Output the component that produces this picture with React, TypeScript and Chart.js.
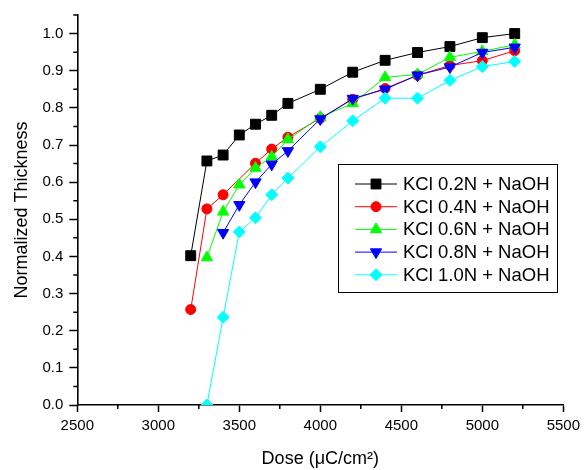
import React, { useEffect, useRef } from "react";
import { Chart, registerables } from "chart.js";
import { drawPoint } from "chart.js/helpers";

Chart.register(...registerables);

const seriesLabels = [
  "KCl 0.2N + NaOH",
  "KCl 0.4N + NaOH",
  "KCl 0.6N + NaOH",
  "KCl 0.8N + NaOH",
  "KCl 1.0N + NaOH",
];

const dose02 = [3200, 3300, 3400, 3500, 3600, 3700, 3800, 4000, 4200, 4400, 4600, 4800, 5000, 5200];
const thick02 = [0.402, 0.657, 0.673, 0.727, 0.756, 0.780, 0.812, 0.850, 0.896, 0.928, 0.949, 0.965, 0.989, 1.0];

const dose04 = [3200, 3300, 3400, 3600, 3700, 3800, 4000, 4200, 4400, 4600, 4800, 5000, 5200];
const thick04 = [0.257, 0.528, 0.566, 0.651, 0.689, 0.721, 0.772, 0.823, 0.852, 0.888, 0.914, 0.927, 0.954];

const dose06 = [3300, 3400, 3500, 3600, 3700, 3800, 4000, 4200, 4400, 4600, 4800, 5000, 5200];
const thick06 = [0.397, 0.52, 0.593, 0.638, 0.668, 0.715, 0.775, 0.812, 0.882, 0.89, 0.936, 0.952, 0.97];

const dose08 = [3400, 3500, 3600, 3700, 3800, 4000, 4200, 4400, 4600, 4800, 5000, 5200];
const thick08 = [0.464, 0.539, 0.6, 0.648, 0.684, 0.77, 0.825, 0.85, 0.888, 0.91, 0.949, 0.963];

const dose10 = [3300, 3400, 3500, 3600, 3700, 3800, 4000, 4200, 4400, 4600, 4800, 5000, 5200];
const thick10 = [0.0, 0.236, 0.466, 0.504, 0.566, 0.611, 0.695, 0.765, 0.826, 0.826, 0.874, 0.911, 0.925];

const xTickValues = [2500, 3000, 3500, 4000, 4500, 5000, 5500];
const xMinorTickValues = [2750, 3250, 3750, 4250, 4750, 5250];
const yTickValues = [0, 0.1, 0.2, 0.3, 0.4, 0.5, 0.6, 0.7, 0.8, 0.9, 1.0];
const yMinorTickValues = [0.05, 0.15, 0.25, 0.35, 0.45, 0.55, 0.65, 0.75, 0.85, 0.95, 1.05];

const FONT = '"Liberation Sans", Arial, sans-serif';

const seriesStyles = [
  { color: "#000000", pointStyle: "rect", rotation: 0, radius: 7 },
  { color: "#ff0000", pointStyle: "circle", rotation: 0, radius: 5 },
  { color: "#00ff00", pointStyle: "triangle", rotation: 0, radius: 6.5 },
  { color: "#0000ff", pointStyle: "triangle", rotation: 180, radius: 6.5 },
  { color: "#00ffff", pointStyle: "rectRot", rotation: 0, radius: 6 },
];

const minorTicksPlugin = {
  id: "minorTicks",
  afterDraw(chart: any) {
    const ctx = chart.ctx;
    const xs = chart.scales.x;
    const ys = chart.scales.y;
    ctx.save();
    ctx.strokeStyle = "#000";
    ctx.lineWidth = 1.5;
    ctx.beginPath();
    xMinorTickValues.forEach((v) => {
      const px = xs.getPixelForValue(v);
      ctx.moveTo(px, xs.top);
      ctx.lineTo(px, xs.top + 4);
    });
    yMinorTickValues.forEach((v) => {
      const py = ys.getPixelForValue(v);
      ctx.moveTo(ys.right, py);
      ctx.lineTo(ys.right - 4, py);
    });
    ctx.stroke();
    ctx.restore();
  },
};

const boxLegendPlugin = {
  id: "boxLegend",
  afterDraw(chart: any) {
    const ctx = chart.ctx;
    const boxL = 338.5;
    const boxT = 164.5;
    const boxW = 219;
    const boxH = 128;
    ctx.save();
    ctx.fillStyle = "#ffffff";
    ctx.fillRect(boxL, boxT, boxW, boxH);
    ctx.strokeStyle = "#000";
    ctx.lineWidth = 1;
    ctx.strokeRect(boxL, boxT, boxW, boxH);
    chart.data.datasets.forEach((ds: any, i: number) => {
      const y = 184 + i * 22.7;
      ctx.strokeStyle = ds.borderColor;
      ctx.lineWidth = 1;
      ctx.beginPath();
      ctx.moveTo(355, y);
      ctx.lineTo(397, y);
      ctx.stroke();
      ctx.fillStyle = ds.pointBackgroundColor;
      ctx.strokeStyle = ds.pointBorderColor;
      drawPoint(
        ctx,
        {
          pointStyle: ds.pointStyle,
          rotation: ds.pointRotation,
          radius: ds.pointRadius,
          borderWidth: 1,
        } as any,
        376,
        y
      );
      ctx.fillStyle = "#000";
      ctx.font = `18.5px ${FONT}`;
      ctx.textBaseline = "middle";
      ctx.textAlign = "left";
      ctx.fillText(ds.label, 403, y + 1);
    });
    ctx.restore();
  },
};

export default function App() {
  const canvasRef = useRef<HTMLCanvasElement | null>(null);

  useEffect(() => {
    if (!canvasRef.current) return;
    const doses = [dose02, dose04, dose06, dose08, dose10];
    const thicks = [thick02, thick04, thick06, thick08, thick10];
    const datasets = seriesLabels.map((label, i) => {
      const st = seriesStyles[i];
      return {
        label,
        data: doses[i].map((d, j) => ({ x: d, y: thicks[i][j] })),
        borderColor: st.color,
        backgroundColor: st.color,
        borderWidth: 1,
        pointStyle: st.pointStyle,
        pointRotation: st.rotation,
        pointRadius: st.radius,
        pointBackgroundColor: st.color,
        pointBorderColor: st.color,
        pointBorderWidth: 1,
        tension: 0,
        fill: false,
        order: seriesLabels.length - i,
      };
    });

    const chart = new Chart(canvasRef.current, {
      type: "line",
      data: { datasets } as any,
      options: {
        animation: false,
        responsive: false,
        layout: { padding: { left: 0, top: 13, right: 21, bottom: 0 } },
        plugins: {
          legend: { display: false },
          tooltip: { enabled: false },
        },
        scales: {
          x: {
            type: "linear",
            min: 2500,
            max: 5500,
            afterFit: (scale: any) => {
              scale.height = 65;
            },
            afterBuildTicks: (scale: any) => {
              scale.ticks = xTickValues.map((v) => ({ value: v }));
            },
            ticks: {
              color: "#000",
              font: { family: FONT, size: 15 },
              padding: 5,
              maxRotation: 0,
              callback: (v: any) => String(v),
            },
            grid: {
              display: true,
              drawOnChartArea: false,
              drawTicks: true,
              tickLength: 7,
              tickColor: "#000",
              tickWidth: 1.5,
            },
            border: { display: true, color: "#000", width: 1.6 },
            title: {
              display: true,
              text: "Dose (\u03bcC/cm\u00b2)",
              color: "#000",
              font: { family: FONT, size: 18 },
              padding: { top: 0, bottom: 0 },
            },
          },
          y: {
            type: "linear",
            min: 0,
            max: 1.05,
            afterFit: (scale: any) => {
              scale.width = 77.3;
            },
            afterBuildTicks: (scale: any) => {
              scale.ticks = yTickValues.map((v) => ({ value: v }));
            },
            ticks: {
              color: "#000",
              font: { family: FONT, size: 15 },
              padding: 6,
              callback: (v: any) => Number(v).toFixed(1),
            },
            grid: {
              display: true,
              drawOnChartArea: false,
              drawTicks: true,
              tickLength: 8,
              tickColor: "#000",
              tickWidth: 1.5,
            },
            border: { display: true, color: "#000", width: 1.6 },
            title: {
              display: true,
              text: "Normalized Thickness",
              color: "#000",
              font: { family: FONT, size: 18 },
              padding: { top: 11, bottom: 0 },
            },
          },
        },
      } as any,
      plugins: [minorTicksPlugin, boxLegendPlugin],
    });
    return () => chart.destroy();
  }, []);

  return (
    <div style={{ position: "absolute", left: 0, top: 0, width: 585, height: 470, background: "#fff" }}>
      <canvas ref={canvasRef} width={585} height={470} style={{ display: "block" }} />
    </div>
  );
}
